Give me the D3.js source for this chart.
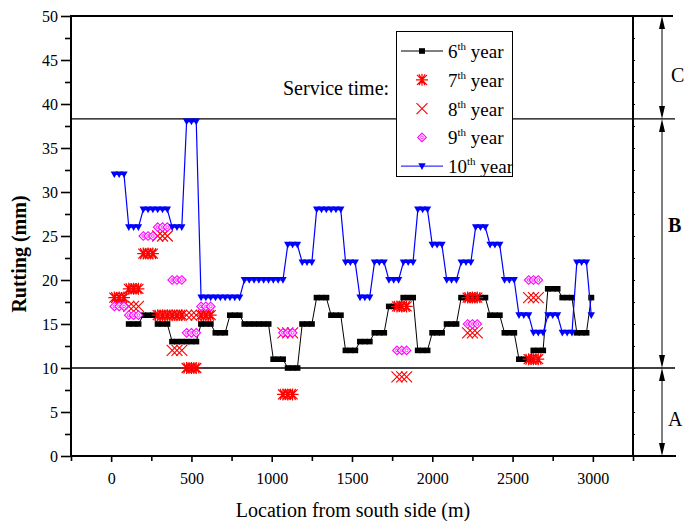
<!DOCTYPE html>
<html><head><meta charset="utf-8">
<script src="https://cdn.jsdelivr.net/npm/d3@7"></script>
<style>
body{margin:0;background:#fff}
svg{display:block}
text{font-family:"Liberation Serif","Times New Roman",serif;fill:#000}
</style>
</head><body>
<svg id="chart" width="685" height="521"></svg>
<script>
// ---- data ----
const stations = [
  20,50,80,110,140,170,200,230,260,290,
  320,350,380,410,440,470,500,530,560,590,
  620,650,680,710,740,770,800,830,860,890,
  920,950,980,1010,1040,1070,1100,1130,1160,1190,
  1220,1250,1280,1310,1340,1370,1400,1430,1460,1490,
  1520,1550,1580,1610,1640,1670,1700,1730,1760,1790,
  1820,1850,1880,1910,1940,1970,2000,2030,2060,2090,
  2120,2150,2180,2210,2240,2270,2300,2330,2360,2390,
  2420,2450,2480,2510,2540,2570,2600,2630,2660,2690,
  2720,2750,2780,2810,2840,2870,2900,2930,2960,2990];
const year6 = [
  null,null,null,15,15,15,16,16,16,15,
  15,15,13,13,13,13,13,13,15,15,
  15,14,14,14,16,16,16,15,15,15,
  15,15,15,11,11,11,10,10,10,15,
  15,15,18,18,18,16,16,16,12,12,
  12,13,13,13,14,14,14,17,17,17,
  18,18,18,12,12,12,14,14,14,15,
  15,15,18,18,18,18,18,18,16,16,
  16,14,14,14,11,11,11,12,12,12,
  19,19,19,18,18,18,14,14,14,18];
const year10 = [
  32,32,32,26,26,26,28,28,28,28,
  28,28,26,26,26,38,38,38,18,18,
  18,18,18,18,18,18,18,20,20,20,
  20,20,20,20,20,20,24,24,24,22,
  22,22,28,28,28,28,28,28,22,22,
  22,18,18,18,22,22,22,20,20,20,
  22,22,22,28,28,28,24,24,24,20,
  20,20,22,22,22,26,26,26,24,24,
  24,20,20,20,16,16,16,14,14,14,
  16,16,16,14,14,14,22,22,22,16];
const loc7 = [20,50,80, 110,140,170, 200,230,260, 290,320,350, 380,410,440, 470,500,530, 560,590,620,
              1070,1100,1130, 1780,1810,1840, 2220,2250,2280, 2600,2630,2660];
const year7 = [18,18,18, 19,19,19, 23,23,23, 16,16,16, 16,16,16, 10,10,10, 16,16,16,
               7,7,7, 17,17,17, 18,18,18, 11,11,11];
const loc8 = [110,140,170, 290,320,350, 380,410,440, 470,500,530,
              1070,1100,1130, 1780,1810,1840, 2220,2250,2280, 2600,2630,2660];
const year8 = [17,17,17, 25,25,25, 12,12,12, 16,16,16,
               14,14,14, 9,9,9, 14,14,14, 18,18,18];
const loc9 = [20,50,80, 110,140,170, 200,230,260, 290,320,350, 380,410,440, 470,500,530, 560,590,620,
              1070,1100,1130, 1780,1810,1840, 2220,2250,2280, 2600,2630,2660];
const year9 = [17,17,17, 16,16,16, 25,25,25, 26,26,26, 20,20,20, 14,14,14, 17,17,17,
               14,14,14, 12,12,12, 15,15,15, 20,20,20];
const xTickValues = [0,500,1000,1500,2000,2500,3000];
const xMinorValues = [-250,250,750,1250,1750,2250,2750,3250];
const yTickValues = [0,5,10,15,20,25,30,35,40,45,50];
const yMinorValues = [2.5,7.5,12.5,17.5,22.5,27.5,32.5,37.5,42.5,47.5];
const zoneBounds = [0,10,38.3,50];
const zoneNames = ["A","B","C"];
const legendOrdinals = ["6","7","8","9","10"];
const serviceLabel = "Service time:";
const xTitle = "Location from south side (m)";
const yTitle = "Rutting (mm)";

// ---- drawing ----
const svg = d3.select("#chart");
const x = d3.scaleLinear().domain([-250,3250]).range([71,633]);
const y = d3.scaleLinear().domain([0,50]).range([456,16]);
const xR = x.range(), yR = y.range();
const FONT = "Liberation Serif, Times New Roman, serif";

// zone lines
const zx2 = 675;
svg.append("g").selectAll("line").data(zoneBounds.slice(1,3)).join("line")
  .attr("x1", xR[0]).attr("x2", zx2).attr("y1", d=>y(d)).attr("y2", d=>y(d))
  .attr("stroke","#000").attr("stroke-width",1.3);

// axes
function styleAxis(g){ g.attr("font-family",FONT); g.select(".domain").remove(); g.selectAll(".tick line").attr("stroke","#000").attr("stroke-width",1.6); }
svg.append("g").attr("transform",`translate(${xR[0]},0)`)
  .call(d3.axisLeft(y).tickValues(yTickValues).tickSize(10).tickPadding(3).tickFormat(d3.format("d")))
  .call(styleAxis)
  .call(g=>g.selectAll("text").attr("font-size",16).attr("fill","#000"));
svg.append("g").attr("transform",`translate(${xR[0]},0)`)
  .call(d3.axisLeft(y).tickValues(yMinorValues).tickSize(6).tickFormat(""))
  .call(styleAxis);
svg.append("g").attr("transform",`translate(0,${yR[0]})`)
  .call(d3.axisBottom(x).tickValues(xTickValues).tickSize(6).tickPadding(11).tickFormat(d3.format("d")))
  .call(styleAxis)
  .call(g=>g.selectAll("text").attr("font-size",16).attr("fill","#000"));
svg.append("g").attr("transform",`translate(0,${yR[0]})`)
  .call(d3.axisBottom(x).tickValues(xMinorValues).tickSize(5).tickFormat(""))
  .call(styleAxis);
svg.append("g").attr("transform",`translate(${xR[1]},0)`)
  .call(d3.axisRight(y).tickValues(yMinorValues.concat(yTickValues.slice(1,-1))).tickSize(2).tickFormat(""))
  .call(styleAxis).call(g=>g.selectAll(".tick line").attr("stroke-width",1));

// frame
const frame = svg.append("g").attr("stroke","#000").attr("stroke-width",2);
frame.append("line").attr("x1",xR[0]).attr("x2",xR[0]).attr("y1",yR[1]).attr("y2",yR[0]);
frame.append("line").attr("x1",xR[1]).attr("x2",xR[1]).attr("y1",yR[1]).attr("y2",yR[0]);
frame.append("line").attr("x1",xR[0]-1).attr("x2",673).attr("y1",yR[1]).attr("y2",yR[1]);
frame.append("line").attr("x1",xR[0]-1).attr("x2",zx2+1).attr("y1",yR[0]).attr("y2",yR[0]);

// zone arrows
const ax = 662;
const labelBaselines = [426, 232, 82];
const arrows = svg.append("g");
zoneNames.forEach((nm,i)=>{
  const top = y(zoneBounds[i+1]), bot = y(zoneBounds[i]);
  arrows.append("line").attr("x1",ax).attr("x2",ax).attr("y1",top+4).attr("y2",bot-4).attr("stroke","#000").attr("stroke-width",1);
  arrows.append("path").attr("d",`M${ax},${top}L${ax-3},${top+13}L${ax+3},${top+13}Z`).attr("fill","#000");
  arrows.append("path").attr("d",`M${ax},${bot}L${ax-3},${bot-13}L${ax+3},${bot-13}Z`).attr("fill","#000");
  svg.append("text").attr("x", nm==="C"?671:668).attr("y",labelBaselines[i]).attr("font-size",20)
    .attr("font-weight", nm==="B"?"bold":"normal").text(nm);
});

// service text
svg.append("text").attr("x",283).attr("y",95).attr("font-size",20).text(serviceLabel);

// symbols
const sym = {
  square: g=>g.append("rect").attr("x",-3).attr("y",-2.8).attr("width",6).attr("height",5.6).attr("fill","#000"),
  star: g=>g.append("path").attr("d","M-5,-5L5,5M-5,5L5,-5M0,-6V6M-6,0H6M-3,-5.5L3,5.5M-3,5.5L3,-5.5").attr("stroke","#ff0000").attr("stroke-width",1.2).attr("fill","none"),
  cross: g=>g.append("path").attr("d","M-5.5,-5.5L5.5,5.5M-5.5,5.5L5.5,-5.5").attr("stroke","#ff0000").attr("stroke-width",1.1).attr("fill","none"),
  diamond: g=>{g.append("path").attr("d","M0,-4.3L4.3,0L0,4.3L-4.3,0Z").attr("stroke","#ff00ff").attr("stroke-width",1.1).attr("fill","#fff");
              g.append("circle").attr("r",1.4).attr("stroke","#ff00ff").attr("stroke-width",0.8).attr("fill","none");},
  tri: g=>g.append("path").attr("d","M-3.7,-3L3.7,-3L0,3.7Z").attr("fill","#0000ff")
};

function pts(xs, ys){ return xs.map((v,i)=>[v,ys[i]]).filter(d=>d[1]!=null); }
const line = d3.line().defined(d=>d[1]!=null).x(d=>x(d[0])).y(d=>y(d[1]));
function drawMarks(data, kind){
  svg.append("g").selectAll("g").data(data).join("g")
    .attr("transform",d=>`translate(${x(d[0])},${y(d[1])})`).each(function(){sym[kind](d3.select(this));});
}

// series
svg.append("path").datum(stations.map((s,i)=>[s,year6[i]])).attr("d",line).attr("fill","none").attr("stroke","#000").attr("stroke-width",1);
drawMarks(pts(stations,year6),"square");
drawMarks(pts(loc7,year7),"star");
drawMarks(pts(loc8,year8),"cross");
drawMarks(pts(loc9,year9),"diamond");
svg.append("path").datum(stations.map((s,i)=>[s,year10[i]])).attr("d",line).attr("fill","none").attr("stroke","#0000ff").attr("stroke-width",1.2);
drawMarks(pts(stations,year10),"tri");

// legend
const lg = svg.append("g");
lg.append("rect").attr("x",396.5).attr("y",31.5).attr("width",116).attr("height",145)
  .attr("fill","#fff").attr("stroke","#000").attr("stroke-width",1);
const legSyms = ["square","star","cross","diamond","tri"];
const legLine = ["#000",null,null,null,"#3333ff"];
legendOrdinals.forEach((o,i)=>{
  const cy = 51 + i*28.8;
  if(legLine[i]) lg.append("line").attr("x1",401).attr("x2",443).attr("y1",cy).attr("y2",cy).attr("stroke",legLine[i]).attr("stroke-width",1.2);
  sym[legSyms[i]](lg.append("g").attr("transform",`translate(422,${cy})`));
  const t = lg.append("text").attr("x",448).attr("y",cy+7).attr("font-size",19);
  t.append("tspan").text(o);
  t.append("tspan").attr("font-size",11).attr("dy",-8).text("th");
  t.append("tspan").attr("dy",8).text(" year");
});

// titles
svg.append("text").attr("x",353).attr("y",517).attr("text-anchor","middle").attr("font-size",20).text(xTitle);
svg.append("text").attr("transform","translate(26,254) rotate(-90)").attr("text-anchor","middle")
  .attr("font-size",20).attr("font-weight","bold").text(yTitle);
</script>
</body></html>
